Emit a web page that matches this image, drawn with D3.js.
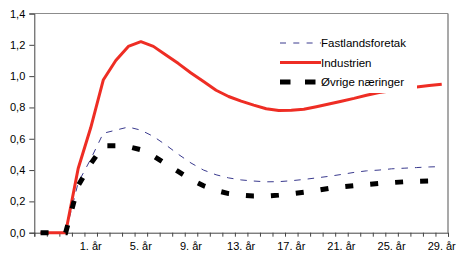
<!DOCTYPE html>
<html>
<head>
<meta charset="utf-8">
<script src="https://cdn.jsdelivr.net/npm/d3@7"></script>
<style>
  html, body { margin: 0; padding: 0; background: #fff; }
  svg { display: block; font-family: "Liberation Sans", Arial, sans-serif; }
</style>
</head>
<body>
<svg id="chart" width="458" height="254"></svg>
<script>
// Categories: three lead-in periods, period 0, then years 1..29
const categories = ["-3","-2","-1","0","1","2","3","4","5","6","7","8","9","10",
  "11","12","13","14","15","16","17","18","19","20","21","22","23","24","25","26","27","28","29"];
const tickCategories = ["1","5","9","13","17","21","25","29"];
const tickLabels = ["1. år","5. år","9. år","13. år","17. år","21. år","25. år","29. år"];
const yTicks = [0, 0.2, 0.4, 0.6, 0.8, 1.0, 1.2, 1.4];

const seriesNames = ["Fastlandsforetak", "Industrien", "Øvrige næringer"];
const fastlandsforetak = [0, 0, 0, 0.32, 0.47, 0.635, 0.655, 0.675, 0.655, 0.615, 0.56, 0.50,
  0.445, 0.40, 0.37, 0.35, 0.337, 0.33, 0.325, 0.326, 0.332, 0.34, 0.35, 0.36, 0.372,
  0.385, 0.395, 0.40, 0.408, 0.412, 0.416, 0.42, 0.422];
const industrien = [0, 0, 0, 0.41, 0.67, 0.975, 1.10, 1.19, 1.22, 1.19, 1.135, 1.08,
  1.02, 0.965, 0.91, 0.87, 0.84, 0.815, 0.792, 0.78, 0.782, 0.788, 0.805, 0.822, 0.84,
  0.858, 0.878, 0.895, 0.907, 0.918, 0.93, 0.94, 0.948];
const ovrige = [0, 0, 0, 0.30, 0.44, 0.555, 0.555, 0.55, 0.53, 0.49, 0.44, 0.39,
  0.34, 0.30, 0.27, 0.25, 0.24, 0.234, 0.234, 0.24, 0.248, 0.258, 0.27, 0.283, 0.292,
  0.30, 0.308, 0.315, 0.32, 0.325, 0.328, 0.33, 0.331];

const svg = d3.select("#chart");
const mLeft = 34.3, mRight = 448, mTop = 13.5, mBottom = 232.7;

const x = d3.scaleBand().domain(categories).range([mLeft, mRight]).paddingInner(0).paddingOuter(0);
const xEdge = d3.scaleLinear().domain([0, categories.length]).range([mLeft, mRight]);
const y = d3.scaleLinear().domain([0, 1.4]).range([mBottom, mTop]);
const cx = c => x(c) + x.bandwidth() / 2;

// plot border (top and right)
svg.append("line").attr("x1", mLeft).attr("x2", mRight).attr("y1", mTop).attr("y2", mTop)
  .attr("stroke", "#8c8c8c").attr("stroke-width", 1);
svg.append("line").attr("x1", mRight).attr("x2", mRight).attr("y1", mTop).attr("y2", mBottom)
  .attr("stroke", "#8c8c8c").attr("stroke-width", 1.5);

// y axis
const yAxis = d3.axisLeft(y).tickValues(yTicks).tickSize(5).tickPadding(4)
  .tickFormat(d => d3.format(".1f")(d).replace(".", ","));
const gy = svg.append("g").attr("transform", `translate(${mLeft},0)`).call(yAxis);
gy.select(".domain").attr("stroke", "#444");
gy.selectAll(".tick line").attr("stroke", "#444");
gy.selectAll(".tick text").attr("fill", "#000").style("font-size", "11px")
  .style("font-family", "'Liberation Sans', Arial, sans-serif");

// x axis (ticks at category boundaries)
const xAxis = d3.axisBottom(xEdge).tickValues(d3.range(0, categories.length + 1))
  .tickSize(4).tickFormat("");
const gx = svg.append("g").attr("transform", `translate(0,${mBottom})`).call(xAxis);
gx.select(".domain").attr("stroke", "#444");
gx.selectAll(".tick line").attr("stroke", "#444");

svg.append("g").selectAll("text").data(tickCategories).join("text")
  .attr("x", d => cx(d)).attr("y", 250)
  .attr("text-anchor", "middle").style("font-size", "11px").attr("fill", "#000")
  .text((d, i) => tickLabels[i]);

// lines
const line = d3.line().x((d, i) => cx(categories[i])).y(d => y(d));
svg.append("path").datum(fastlandsforetak).attr("d", line)
  .attr("fill", "none").attr("stroke", "#3a3a8e").attr("stroke-width", 1)
  .attr("stroke-dasharray", "6.5,7");
svg.append("path").datum(industrien).attr("d", line)
  .attr("fill", "none").attr("stroke", "#ee2d24").attr("stroke-width", 3)
  .attr("stroke-linejoin", "round");
svg.append("path").datum(ovrige).attr("d", line)
  .attr("fill", "none").attr("stroke", "#000").attr("stroke-width", 5)
  .attr("stroke-dasharray", "8,17");

// legend
const lg = svg.append("g");
lg.append("rect").attr("x", 274).attr("y", 32).attr("width", 143).attr("height", 61).attr("fill", "#fff");
const legendRows = [
  {name: seriesNames[0], stroke: "#3a3a8e", w: 1, dash: "6,7.3", y: 43},
  {name: seriesNames[1], stroke: "#ee2d24", w: 3, dash: null, y: 62.5},
  {name: seriesNames[2], stroke: "#000", w: 5, dash: "10.5,14.5", y: 82}
];
legendRows.forEach(r => {
  const l = lg.append("line").attr("x1", 280).attr("x2", 321).attr("y1", r.y).attr("y2", r.y)
    .attr("stroke", r.stroke).attr("stroke-width", r.w);
  if (r.dash) l.attr("stroke-dasharray", r.dash);
  lg.append("text").attr("x", 321).attr("y", r.y + 4).style("font-size", "11.5px")
    .attr("fill", "#000").text(r.name);
});
</script>
</body>
</html>
